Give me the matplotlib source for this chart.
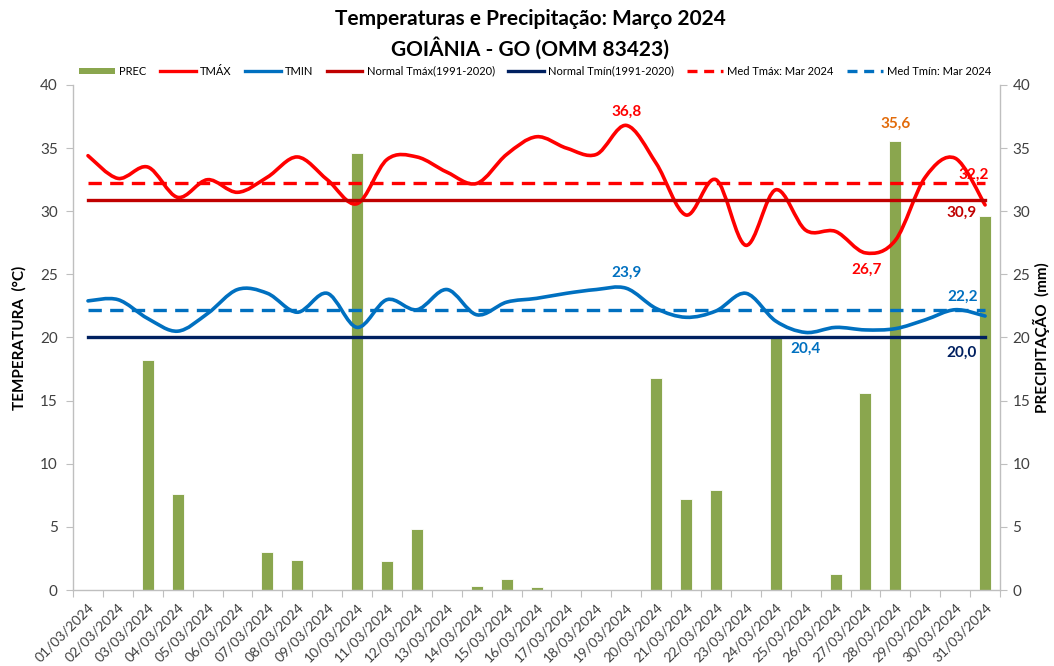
import matplotlib
matplotlib.use("Agg")
import matplotlib.pyplot as plt
from matplotlib.path import Path
from matplotlib.patches import PathPatch, Patch
from matplotlib.lines import Line2D

plt.rcParams["font.family"] = ["Lato", "DejaVu Sans"]

# Data
DAYS = [f"{d:02d}/03/2024" for d in range(1, 32)]
TMAX = [34.4, 32.6, 33.5, 31.1, 32.5, 31.5, 32.7, 34.3, 32.5, 30.6,
        34.1, 34.3, 33.1, 32.2, 34.5, 35.9, 35.0, 34.5, 36.8, 33.8,
        29.7, 32.5, 27.3, 31.7, 28.5, 28.4, 26.7, 27.7, 32.7, 34.2, 30.5]
TMIN = [22.9, 23.0, 21.5, 20.5, 21.9, 23.8, 23.5, 22.0, 23.5, 20.8,
        23.0, 22.2, 23.8, 21.8, 22.8, 23.1, 23.5, 23.8, 23.9, 22.3,
        21.6, 22.1, 23.5, 21.3, 20.4, 20.8, 20.6, 20.7, 21.4, 22.2, 21.7]
PREC = [0.0, 0.0, 18.2, 7.6, 0.0, 0.0, 3.0, 2.4, 0.0, 34.6,
        2.3, 4.8, 0.0, 0.3, 0.9, 0.2, 0.0, 0.0, 0.0, 16.8,
        7.2, 7.9, 0.0, 20.0, 0.0, 1.3, 15.6, 35.6, 0.0, 0.0, 29.6]
NORMAL_TMAX = 30.9
NORMAL_TMIN = 20.0
MED_TMAX = 32.2
MED_TMIN = 22.2

CLR_TMAX = "#FF0000"
CLR_TMIN = "#0070C0"
CLR_NTMAX = "#C00000"
CLR_NTMIN = "#002060"
CLR_PREC = "#8AA64E"
CLR_AXIS = "#BFBFBF"
CLR_TICK = "#404040"


def smooth_path(xs, ys):
    """Excel-style smoothed line as cubic Bezier segments."""
    verts = [(xs[0], ys[0])]
    codes = [Path.MOVETO]
    n = len(xs)
    for i in range(n - 1):
        x0, y0 = (xs[i - 1], ys[i - 1]) if i > 0 else (xs[i], ys[i])
        x1, y1 = xs[i], ys[i]
        x2, y2 = xs[i + 1], ys[i + 1]
        x3, y3 = (xs[i + 2], ys[i + 2]) if i + 2 < n else (x2, y2)
        c1 = (x1 + (x2 - x0) / 6, y1 + (y2 - y0) / 6)
        c2 = (x2 - (x3 - x1) / 6, y2 - (y3 - y1) / 6)
        verts += [c1, c2, (x2, y2)]
        codes += [Path.CURVE4] * 3
    return Path(verts, codes)


fig = plt.figure(figsize=(10.54, 6.66), dpi=100)
ax = fig.add_axes([0.0693, 0.1141, 0.8795, 0.7583])
ax2 = ax.twinx()
ax.set_zorder(ax2.get_zorder() + 1)
ax.patch.set_visible(False)

x = list(range(len(DAYS)))

# Precipitation bars on the right axis
ax2.bar(x, PREC, width=0.4, color=CLR_PREC, edgecolor="white", linewidth=0.6)

# Smoothed temperature lines
for vals, clr in [(TMAX, CLR_TMAX), (TMIN, CLR_TMIN)]:
    ax.add_patch(PathPatch(smooth_path(x, vals), facecolor="none",
                           edgecolor=clr, linewidth=2.6, capstyle="round",
                           joinstyle="round"))

# Normals and monthly means
ax.plot([0, len(x) - 1], [NORMAL_TMAX] * 2, color=CLR_NTMAX, lw=2.4)
ax.plot([0, len(x) - 1], [NORMAL_TMIN] * 2, color=CLR_NTMIN, lw=2.4)
ax.plot([0, len(x) - 1], [MED_TMAX] * 2, color=CLR_TMAX, lw=2.4,
        dashes=(4, 2.5))
ax.plot([0, len(x) - 1], [MED_TMIN] * 2, color=CLR_TMIN, lw=2.4,
        dashes=(4, 2.5))

# Value labels
i_max = TMAX.index(max(TMAX))
i_min = TMAX.index(min(TMAX))
j_max = TMIN.index(max(TMIN))
j_min = TMIN.index(min(TMIN))
k_max = PREC.index(max(PREC))
lab = dict(fontsize=11, fontweight="bold", ha="center", va="center")
fmt = lambda v: f"{v:.1f}".replace(".", ",")
ax.annotate(fmt(TMAX[i_max]), (i_max, TMAX[i_max]), xytext=(0, 10),
            textcoords="offset points", color=CLR_TMAX, **lab)
ax.annotate(fmt(TMIN[j_max]), (j_max, TMIN[j_max]), xytext=(0, 11),
            textcoords="offset points", color=CLR_TMIN, **lab)
ax.annotate(fmt(TMAX[i_min]), (i_min, TMAX[i_min]), xytext=(1, -12),
            textcoords="offset points", color=CLR_TMAX, **lab)
ax.annotate(fmt(TMIN[j_min]), (j_min, TMIN[j_min]), xytext=(0, -12),
            textcoords="offset points", color=CLR_TMIN, **lab)
ax2.annotate(fmt(PREC[k_max]), (k_max, PREC[k_max]), xytext=(0, 12),
             textcoords="offset points", color="#E26B0A", **lab)
last = len(x) - 1
ax.annotate(fmt(MED_TMAX), (last, MED_TMAX), xytext=(-8, 6),
            textcoords="offset points", color=CLR_TMAX, **lab)
ax.annotate(fmt(NORMAL_TMAX), (last, NORMAL_TMAX), xytext=(-17, -9),
            textcoords="offset points", color=CLR_NTMAX, **lab)
ax.annotate(fmt(MED_TMIN), (last, MED_TMIN), xytext=(-16, 9),
            textcoords="offset points", color=CLR_TMIN, **lab)
ax.annotate(fmt(NORMAL_TMIN), (last, NORMAL_TMIN), xytext=(-17, -11),
            textcoords="offset points", color=CLR_NTMIN, **lab)

# Axes
for a in (ax, ax2):
    a.set_xlim(-0.5, len(x) - 0.5)
    a.set_ylim(0, 40)
    a.set_yticks(range(0, 41, 5))
    for sp in a.spines.values():
        sp.set_visible(False)
ax.spines["left"].set_visible(True)
ax.spines["bottom"].set_visible(True)
ax2.spines["right"].set_visible(True)
for sp in (ax.spines["left"], ax.spines["bottom"], ax2.spines["right"]):
    sp.set_color(CLR_AXIS)
    sp.set_linewidth(1.0)

ax.set_xticks([i - 0.5 for i in range(len(x) + 1)])
ax.set_xticklabels([])
ax.set_xticks(x, minor=True)
ax.set_xticklabels(DAYS, minor=True, rotation=45, ha="right",
                   rotation_mode="anchor", fontsize=10, color=CLR_TICK)
ax.tick_params(axis="x", which="major", length=5, color=CLR_AXIS)
ax.tick_params(axis="x", which="minor", length=0, pad=8)
ax.tick_params(axis="y", length=5, color=CLR_AXIS, labelsize=11,
               labelcolor=CLR_TICK, pad=6)
ax2.tick_params(axis="y", length=5, color=CLR_AXIS, labelsize=11,
                labelcolor=CLR_TICK, pad=4)

ax.set_ylabel("TEMPERATURA  (°C)", fontsize=11, fontweight="bold",
              color="black", labelpad=10)
ax2.set_ylabel("PRECIPITAÇÃO  (mm)", fontsize=11, fontweight="bold",
               color="black", labelpad=2)

fig.text(0.503, 0.972, "Temperaturas e Precipitação: Março 2024",
         ha="center", va="center", fontsize=15, fontweight="bold")
fig.text(0.503, 0.927, "GOIÂNIA - GO (OMM 83423)",
         ha="center", va="center", fontsize=15, fontweight="bold")

# Legend
handles = [
    Patch(facecolor=CLR_PREC, label="PREC"),
    Line2D([0], [0], color=CLR_TMAX, lw=2.4, label="TMÁX"),
    Line2D([0], [0], color=CLR_TMIN, lw=2.4, label="TMIN"),
    Line2D([0], [0], color=CLR_NTMAX, lw=2.4, label="Normal Tmáx(1991-2020)"),
    Line2D([0], [0], color=CLR_NTMIN, lw=2.4, label="Normal Tmín(1991-2020)"),
    Line2D([0], [0], color=CLR_TMAX, lw=2.4, dashes=(3, 2),
           label="Med Tmáx: Mar 2024"),
    Line2D([0], [0], color=CLR_TMIN, lw=2.4, dashes=(3, 2),
           label="Med Tmín: Mar 2024"),
]
fig.legend(handles=handles, loc="center", bbox_to_anchor=(0.508, 0.893),
           ncol=7, frameon=False, fontsize=8, handlelength=3.2,
           handleheight=0.5, columnspacing=1.2, handletextpad=0.4)

fig.savefig("out.png", dpi=100, facecolor="white")
